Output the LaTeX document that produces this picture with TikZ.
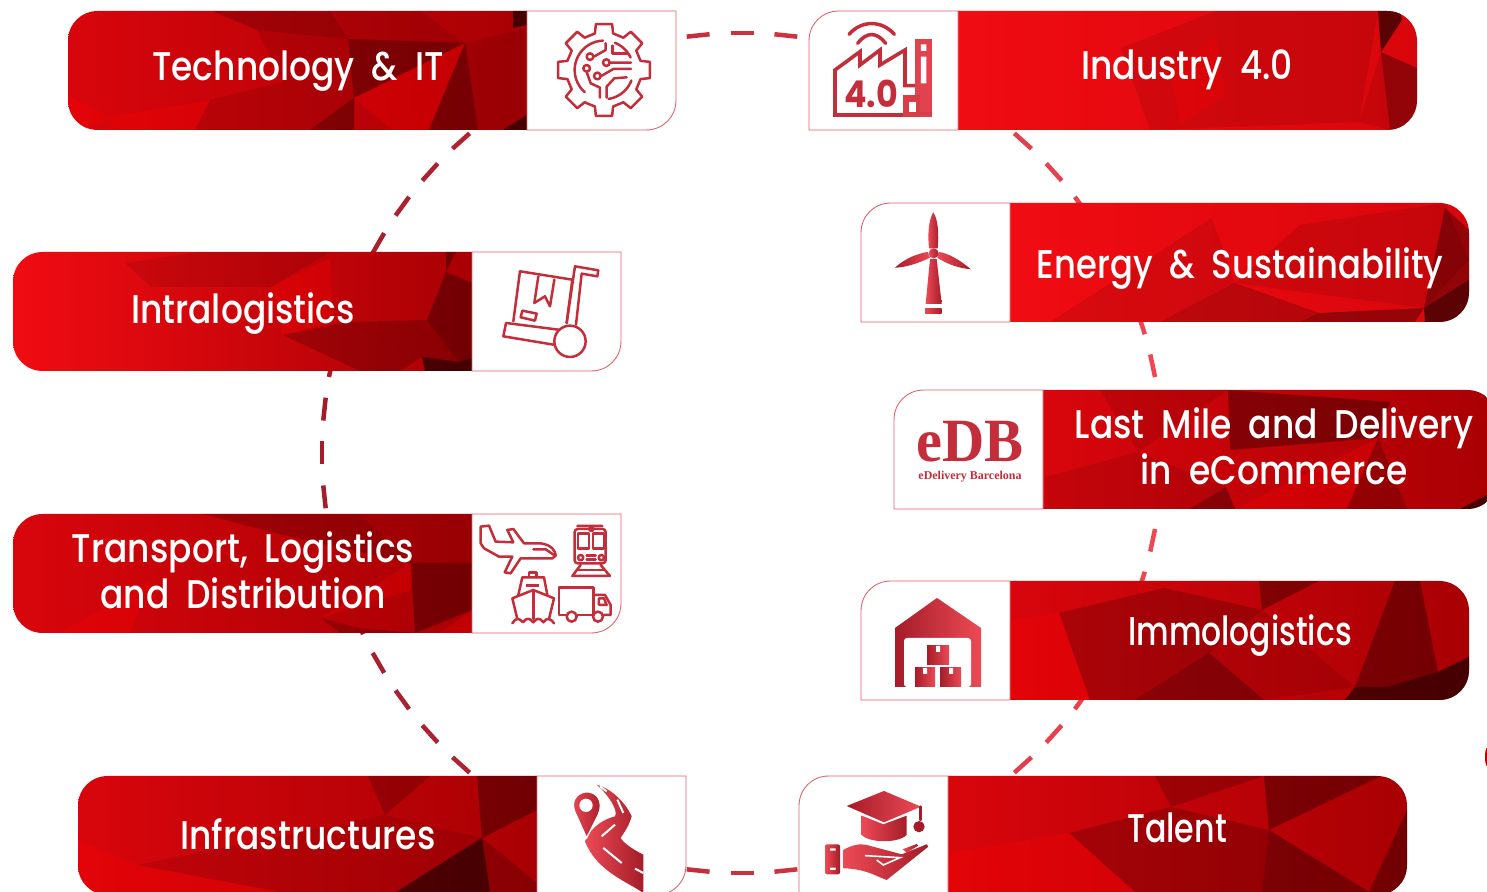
\documentclass[tikz,border=0pt]{standalone}
\usepackage{fontspec}
\usepackage{xcolor}
\setmainfont{Poppins}[UprightFont=* Medium,BoldFont=* Bold,FakeStretch=0.86,WordSpace=1.9]
\newfontfamily\logofont{Liberation Serif}
\usetikzlibrary{positioning}

\definecolor{ringdark}{HTML}{A31D2B}
\definecolor{ringlight}{HTML}{F04651}
\definecolor{icondk}{HTML}{A51C28}
\definecolor{iconlt}{HTML}{EC4A55}
\definecolor{iconmid}{HTML}{C42E3A}
\definecolor{panelline}{HTML}{E4616B}
\definecolor{cardbright}{HTML}{F00C12}
\definecolor{cardred}{HTML}{D8060C}
\definecolor{carddeep}{HTML}{A80004}

\tikzset{
  cardlabel/.style={text=white, align=center, font=\fontsize{11.4}{13.1}\selectfont},
  paneledge/.style={draw=panelline, fill=white, line width=0.25pt},
  ringdash/.style={line width=0.045cm},
  dka/.style={fill=black, fill opacity=0.09},
  dkb/.style={fill=black, fill opacity=0.19},
  dkc/.style={fill=black, fill opacity=0.32},
  dkd/.style={fill=black, fill opacity=0.58},
  lta/.style={fill=red, fill opacity=0.28},
  iconline/.style={draw=iconmid, line width=0.025cm, line join=round, line cap=round},
  iconthick/.style={draw=iconmid, line width=0.036cm, line join=miter},
  iconup/.style={left color=icondk, right color=iconlt},
  icondown/.style={left color=iconlt, right color=icondk}
}

% left, split, right, top, shade from, shade to, facets
\newcommand{\cardleft}[7]{%
  \begin{scope}
    \clip ({#1+30},#4) -- (#2,#4) -- (#2,{#4+119}) -- ({#1+30},{#4+119}) .. controls ({#1+13},{#4+119}) and (#1,{#4+106}) .. (#1,{#4+89}) -- (#1,{#4+30}) .. controls (#1,{#4+13}) and ({#1+13},#4) .. ({#1+30},#4) -- cycle;
    \shade[left color=#5, right color=#6] (#1,#4) rectangle (#2,{#4+119});
    #7
  \end{scope}
  \draw[paneledge] (#2,#4) -- (#3,#4) -- (#3,{#4+89}) .. controls (#3,{#4+106}) and ({#3-13},{#4+119}) .. ({#3-30},{#4+119}) -- (#2,{#4+119}) -- cycle;
}
\newcommand{\cardright}[7]{%
  \begin{scope}
    \clip (#2,#4) -- ({#3-30},#4) .. controls ({#3-13},#4) and (#3,{#4+13}) .. (#3,{#4+30}) -- (#3,{#4+89}) .. controls (#3,{#4+106}) and ({#3-13},{#4+119}) .. ({#3-30},{#4+119}) -- (#2,{#4+119}) -- cycle;
    \shade[left color=#5, right color=#6] (#2,#4) rectangle (#3,{#4+119});
    #7
  \end{scope}
  \draw[paneledge] ({#1+30},#4) -- (#2,#4) -- (#2,{#4+119}) -- (#1,{#4+119}) -- (#1,{#4+30}) .. controls (#1,{#4+13}) and ({#1+13},#4) .. ({#1+30},#4) -- cycle;
}

\begin{document}
\begin{tikzpicture}[x=0.01cm, y=-0.01cm]
  \useasboundingbox (0,0) rectangle (1487,892);
  \clip (0,0) rectangle (1487,892);

  % dashed ring behind the cards
  \coordinate (ringc) at (742,453);
  \foreach \a in {0,6,...,354} {
    \pgfmathsetmacro\ringmix{50+50*cos(\a)}
    \draw[ringdash, ringlight!\ringmix!ringdark] ([shift={(\a-1.57:420)}]ringc) -- ([shift={(\a+1.57:420)}]ringc);
  }
  \fill[red!75!black] (1487,757) ellipse (2 and 9);

  % left column
  \cardleft{68}{527}{676}{11}{cardred}{carddeep}{
    \fill[dkb] (212,11) -- (257,30) -- (348,39) -- (330,11) -- cycle;
    \fill[dka] (257,30) -- (283,82) -- (354,98) -- (348,39) -- cycle;
    \fill[dkc] (348,39) -- (465,43) -- (354,98) -- cycle;
    \fill[dka] (348,39) -- (465,43) -- (420,11) -- (330,11) -- cycle;
    \fill[lta] (354,98) -- (465,43) -- (429,130) -- (392,130) -- cycle;
    \fill[dkc] (465,43) -- (429,130) -- (478,130) -- cycle;
    \fill[dka] (465,43) -- (527,28) -- (527,115) -- (503,130) -- (478,130) -- cycle;
    \fill[dkd] (513,11) -- (527,11) -- (527,25) -- (513,28) -- cycle;
    \fill[dkd] (503,130) -- (527,115) -- (527,130) -- cycle;
    \fill[dkc] (354,98) -- (310,130) -- (354,130) -- cycle;
    \fill[lta] (108,117) -- (210,100) -- (195,130) -- (115,130) -- cycle;
    \fill[lta] (68,95) -- (108,117) -- (85,130) -- (68,130) -- cycle;
    \fill[dka] (210,100) -- (283,82) -- (354,98) -- (310,130) -- (195,130) -- cycle;
  }
  \cardleft{13}{472}{621}{252}{cardbright}{carddeep}{
    \fill[dkc] (446,272) -- (472,283) -- (472,358) -- (459,362) -- (427,320) -- cycle;
    \fill[dkc] (446,252) -- (456,252) -- (446,272) -- cycle;
    \fill[dkb] (349,322) -- (427,320) -- (459,362) -- (422,357) -- cycle;
    \fill[dkb] (283,335) -- (349,322) -- (422,357) -- (400,371) -- (360,371) -- cycle;
    \fill[dkd] (422,357) -- (459,362) -- (472,358) -- (472,371) -- (425,371) -- cycle;
    \fill[lta] (271,287) -- (330,258) -- (333,322) -- (283,335) -- cycle;
    \fill[dka] (125,263) -- (151,287) -- (271,287) -- (330,252) -- (200,252) -- cycle;
  }
  \cardleft{13}{472}{621}{514}{cardred}{carddeep}{
    \fill[dkb] (203,514) -- (283,535) -- (411,563) -- (359,514) -- cycle;
    \fill[dka] (359,514) -- (411,563) -- (472,563) -- (472,514) -- cycle;
    \fill[dkc] (411,563) -- (472,563) -- (472,610) -- (415,633) -- cycle;
    \fill[lta] (472,610) -- (440,633) -- (472,633) -- cycle;
    \fill[dkb] (321,618) -- (359,628) -- (415,633) -- (340,633) -- cycle;
    \fill[lta] (321,618) -- (411,590) -- (411,563) -- cycle;
    \fill[lta] (60,633) -- (150,580) -- (130,633) -- cycle;
  }
  \cardleft{78}{537}{686}{776}{cardred}{carddeep}{
    \fill[dkc] (477,776) -- (537,776) -- (537,810) -- (482,838) -- cycle;
    \fill[dkd] (482,838) -- (396,892) -- (490,892) -- cycle;
    \fill[dkb] (482,838) -- (537,883) -- (537,892) -- (490,892) -- cycle;
    \fill[dkb] (368,776) -- (385,815) -- (430,776) -- cycle;
    \fill[dka] (137,865) -- (385,815) -- (482,838) -- (396,892) -- (280,892) -- cycle;
    \fill[lta] (78,840) -- (137,865) -- (160,892) -- (78,892) -- cycle;
    \fill[lta] (137,865) -- (280,892) -- (160,892) -- cycle;
  }

  % right column
  \cardright{809}{958}{1417}{11}{cardbright}{cardred}{
    \fill[dkd] (1378,11) -- (1381,52) -- (1402,20) -- (1400,11) -- cycle;
    \fill[dkc] (1381,52) -- (1417,68) -- (1417,130) -- (1390,130) -- cycle;
    \fill[dka] (1381,52) -- (1359,122) -- (1390,130) -- cycle;
    \fill[dka] (1121,48) -- (1150,130) -- (1359,122) -- (1378,11) -- (1216,11) -- cycle;
    \fill[lta] (1170,70) -- (1216,37) -- (1225,95) -- (1180,125) -- cycle;
  }
  \cardright{861}{1010}{1469}{203}{cardbright}{cardred}{
    \fill[dka] (1235,283) -- (1424,308) -- (1469,260) -- (1445,203) -- (1300,225) -- cycle;
    \fill[dkc] (1445,208) -- (1469,230) -- (1469,280) -- (1424,308) -- cycle;
    \fill[dkb] (1235,283) -- (1319,313) -- (1300,322) -- (1160,322) -- cycle;
    \fill[dkc] (1319,313) -- (1424,308) -- (1415,322) -- (1300,322) -- cycle;
    \fill[dkd] (1424,308) -- (1469,280) -- (1469,322) -- (1425,322) -- cycle;
    \fill[dka] (1212,218) -- (1235,283) -- (1160,322) -- (1050,322) -- cycle;
  }
  \cardright{894}{1043}{1497}{390}{cardred}{carddeep}{
    \fill[dkc] (1228,390) -- (1390,402) -- (1378,438) -- (1230,450) -- cycle;
    \fill[dka] (1138,452) -- (1228,390) -- (1100,390) -- cycle;
    \fill[dkb] (1347,509) -- (1378,438) -- (1407,509) -- cycle;
    \fill[dkc] (1226,487) -- (1190,509) -- (1235,509) -- cycle;
    \fill[dka] (1045,477) -- (1138,452) -- (1226,487) -- (1190,509) -- (1045,509) -- cycle;
    \fill[lta] (1235,509) -- (1378,438) -- (1347,509) -- cycle;
    \fill[dkd] (1460,509) -- (1487,495) -- (1497,509) -- cycle;
  }
  \cardright{861}{1010}{1469}{581}{cardred}{carddeep}{
    \fill[dkb] (1059,613) -- (1164,588) -- (1262,610) -- (1209,653) -- (1135,700) -- (1090,700) -- cycle;
    \fill[dkc] (1259,581) -- (1319,581) -- (1262,610) -- cycle;
    \fill[dkc] (1209,653) -- (1264,700) -- (1135,700) -- cycle;
    \fill[dka] (1262,610) -- (1355,687) -- (1264,700) -- (1209,653) -- cycle;
    \fill[dkc] (1395,581) -- (1355,687) -- (1388,687) -- (1438,672) -- (1420,581) -- cycle;
    \fill[dkd] (1438,672) -- (1469,657) -- (1469,700) -- (1345,700) -- (1355,687) -- (1388,687) -- cycle;
    \fill[lta] (1011,620) -- (1059,613) -- (1090,700) -- (1011,700) -- cycle;
  }
  \cardright{799}{948}{1407}{776}{cardred}{carddeep}{
    \fill[dkb] (1155,776) -- (1171,807) -- (1264,776) -- cycle;
    \fill[dkc] (1264,776) -- (1381,776) -- (1269,830) -- cycle;
    \fill[dkc] (1269,830) -- (1369,892) -- (1262,892) -- cycle;
    \fill[dkb] (1171,807) -- (1269,830) -- (1262,892) -- (1135,892) -- (1069,833) -- cycle;
    \fill[dkc] (1407,810) -- (1369,892) -- (1407,892) -- cycle;
    \fill[lta] (1069,833) -- (950,853) -- (948,892) -- (1135,892) -- cycle;
  }

  % labels
  \node[cardlabel] (techlabel) at (298,71) {Technology \& IT};
  \node[cardlabel] (intralabel) at (243,314) {Intralogistics};
  \node[cardlabel] (translabel) at (243,570) {Transport, Logistics\\and Distribution};
  \node[cardlabel] (infralabel) at (308,834) {Infrastructures};
  \node[cardlabel] (indlabel) at (1187,70) {Industry 4.0};
  \node[cardlabel, xscale=0.98] (energylabel) at (1240,269) {Energy \& Sustainability};
  \node[cardlabel] (lastlabel) at (1274,446) {Last Mile and Delivery\\in eCommerce};
  \node[cardlabel, xscale=0.91] (immolabel) at (1240,636) {Immologistics};
  \node[cardlabel, xscale=0.92] (talentlabel) at (1177,828) {Talent};

  % gear icon
  \begin{scope}[shift={(545,15)}, scale=0.3333]
    \foreach \a in {0,45,...,315} {
      \draw[iconline, shift={(177,165)}] (\a-14:113) -- (\a-10:140) -- (\a+10:140) -- (\a+14:113) -- (\a+31:113);
    }
    \draw[iconline] plot[domain=131:268, samples=24] ({177+88*cos(\x)},{165+88*sin(\x)});
    \draw[iconline] plot[domain=-68:-25, samples=10] ({177+88*cos(\x)},{165+88*sin(\x)});
    \draw[iconline] plot[domain=21:81, samples=12] ({177+88*cos(\x)},{165+88*sin(\x)});
    \draw[iconline] (182,85) -- (182,105) -- (147,125) (135,125) circle (10);
    \draw[iconline] (202,92) -- (202,115) -- (248,115);
    \draw[iconline] (195,143) -- (258,143) (184,143) circle (10);
    \draw[iconline] (258,162) -- (205,162) -- (169,183) (157,183) circle (10);
    \draw[iconline] (125,160) circle (10) (125,171) -- (137,205) -- (165,218) -- (165,248);
    \draw[iconline] (245,187) -- (208,190) -- (185,215) -- (185,248);
  \end{scope}

  % trolley icon
  \begin{scope}[shift={(495,258)}, scale=0.3333]
    \draw[iconline] (55,190) -- (75,40) -- (232,65) -- (215,195);
    \draw[iconline] (130,55) -- (118,135) -- (150,115) -- (165,145) -- (178,65);
    \draw[iconline] (82,158) -- (125,167) -- (120,188) -- (77,178) -- cycle;
    \draw[iconline] (190,215) -- (33,195) -- (25,235) -- (175,260);
    \draw[iconline] (215,195) -- (240,25) -- (310,37) -- (307,55) -- (260,47) -- (243,200);
    \draw[iconline] (225,250) circle (47);
  \end{scope}

  % transport icons
  \begin{scope}[shift={(474,515)}, scale=0.3333]
    \draw[iconline] (20,35) -- (45,32) -- (65,80) -- (118,82) -- (100,45) -- (118,42) -- (150,85) -- (200,85) .. controls (235,90) and (245,110) .. (245,122) -- (235,130) -- (140,130) -- (110,175) -- (92,172) -- (115,125) -- (75,125) -- (30,100) -- (20,85) -- cycle;
    \draw[iconline] (178,103) -- (215,103) -- (240,120);
    % train
    \draw[iconline, rounded corners=0.03cm] (302,42) rectangle (395,145);
    \draw[iconline] (310,33) -- (385,33) (352,42) circle (6);
    \draw[iconline] (312,55) rectangle (345,100) (357,55) rectangle (390,100);
    \draw[iconline] (320,128) circle (8) (382,128) circle (8);
    \draw[iconline] (338,122) -- (365,122) (338,134) -- (365,134);
    \draw[iconline] (320,150) -- (295,183) -- (408,183) -- (380,150);
    \draw[iconline] (310,165) -- (392,165);
    % ship
    \draw[iconline] (165,187) -- (165,172) -- (188,172) -- (188,187);
    \draw[iconline] (133,240) -- (145,187) -- (210,187) -- (220,240);
    \fill[iconmid] (155,208) rectangle (195,216);
    \draw[iconline] (130,312) -- (115,250) -- (178,225) -- (240,250) -- (225,312);
    \draw[iconline] (178,225) -- (178,312);
    \draw[iconline] (115,325) .. controls (125,308) and (135,308) .. (147,322) .. controls (157,308) and (167,308) .. (178,322) .. controls (188,308) and (198,308) .. (208,322) .. controls (218,308) and (228,308) .. (240,325);
    % truck
    \draw[iconline] (275,300) -- (255,300) -- (255,217) -- (358,217) -- (358,300) -- (310,300);
    \draw[iconline] (358,240) -- (393,240) -- (410,270) -- (410,300) -- (390,300);
    \draw[iconline] (375,250) -- (390,250) -- (398,270) -- (375,270) -- cycle;
    \draw[iconline] (293,305) circle (15) (372,305) circle (15);
  \end{scope}

  % road icon
  \begin{scope}[shift={(560,778)}, scale=0.3333]
    \shade[icondown] (110,20) .. controls (150,30) and (195,70) .. (215,115) .. controls (205,150) and (190,165) .. (182,180) .. controls (190,195) and (220,215) .. (250,230) -- (250,345) .. controls (200,310) and (110,280) .. (75,190) .. controls (85,165) and (110,130) .. (165,115) .. controls (175,100) and (150,55) .. (110,20) -- cycle;
    \draw[white, line width=0.02cm] (172,65) -- (190,105) (125,175) -- (165,140);
    \draw[white, line width=0.02cm] (130,210) -- (185,255) (225,272) -- (250,285) (120,25) -- (140,40);
    \shade[icondown, draw=white, line width=0.012cm] (80,180) -- (44,100) .. controls (30,60) and (60,40) .. (85,42) .. controls (115,45) and (130,75) .. (115,110) -- cycle;
    \fill[white] (78,82) circle (20);
  \end{scope}

  % factory icon
  \begin{scope}[shift={(825,15)}, scale=0.3333]
    \draw[iconthick] (240,300) -- (30,300) -- (30,165) -- (105,110) -- (105,150) -- (165,105) -- (165,150) -- (240,105) -- (240,212) -- (270,212);
    \fill[iconlt!85!icondk] (270,72) rectangle (320,305);
    \fill[white] (288,88) rectangle (304,108) (288,125) rectangle (304,205);
    \fill[iconlt!70!icondk] (235,240) rectangle (285,305);
    \fill[white] (252,262) rectangle (272,298);
    \draw[iconthick, iconlt!70!icondk] (240,296) -- (320,296);
    \draw[iconline, line width=0.035cm, line cap=round] (72,58) .. controls (110,15) and (170,15) .. (208,58);
    \draw[iconline, line width=0.035cm, line cap=round] (98,85) .. controls (125,50) and (155,50) .. (182,85);
    \node[text=iconmid, font=\fontsize{10.5}{12}\bfseries\selectfont, inner sep=0pt, xscale=1.05] (fourzero) at (138,236) {4.0};
  \end{scope}

  % turbine icon
  \begin{scope}[shift={(885,205)}, scale=0.3333]
    \shade[left color=iconlt, right color=icondk] (145,22) .. controls (160,45) and (162,90) .. (158,130) -- (132,130) .. controls (128,90) and (130,45) .. (145,22) -- cycle;
    \shade[iconup] (30,188) .. controls (60,160) and (100,145) .. (128,141) -- (135,158) .. controls (100,175) and (60,188) .. (30,188) -- cycle;
    \shade[icondown] (258,193) .. controls (225,165) and (190,145) .. (162,141) -- (157,158) .. controls (190,180) and (225,190) .. (258,193) -- cycle;
    \shade[icondown] (146,145) circle (15);
    \shade[icondown] (135,162) -- (122,297) -- (170,297) -- (155,162) -- cycle;
    \shade[icondown] (120,310) rectangle (170,325);
  \end{scope}

  % eDB logo
  \node[text=iconmid, font=\logofont\fontsize{17.5}{19}\bfseries\selectfont, inner sep=0pt, xscale=0.95] (edblogo) at (970,442) {eDB};
  \node[text=iconmid, font=\logofont\fontsize{3.4}{4}\bfseries\selectfont, inner sep=0pt] (edbsub) at (970,477) {eDelivery Barcelona};

  % warehouse icon
  \shade[iconup] (937,598) -- (981,628) -- (981,687) -- (895,687) -- (895,628) -- cycle;
  \fill[white, rounded corners=0.03cm] (904,687) -- (904,638) -- (971,638) -- (971,687) -- cycle;
  \shade[iconup] (927,646) rectangle (949,665);
  \shade[iconup] (915,668) rectangle (935,687);
  \shade[iconup] (940,668) rectangle (961,687);
  \fill[white] (936,646) rectangle (940,652) (923,668) rectangle (927,674) (949,668) rectangle (953,674);

  % graduate icon
  \begin{scope}[shift={(815,785)}, scale=0.3333]
    \shade[icondown] (140,92) -- (205,118) -- (275,92) -- (275,150) .. controls (250,175) and (165,175) .. (140,150) -- cycle;
    \shade[iconup] (95,63) -- (207,18) -- (318,65) -- (207,112) -- cycle;
    \draw[iconline, icondk] (316,65) -- (316,105);
    \fill[icondk] (312,125) circle (17);
    \shade[icondown, rounded corners=0.02cm] (30,178) rectangle (75,268);
    \fill[white] (45,190) rectangle (62,197) (45,248) rectangle (62,255);
    \shade[icondown] (85,195) .. controls (110,180) and (135,175) .. (155,180) -- (260,208) -- (335,178) -- (340,185) -- (215,285) -- (190,275) .. controls (150,255) and (110,250) .. (85,250) -- cycle;
    \draw[white, line width=0.016cm] (150,212) -- (255,218) -- (205,240) -- (185,225);
    \shade[icondown] (263,193) -- (305,177) -- (310,182) -- (275,203) -- cycle;
  \end{scope}
\end{tikzpicture}
\end{document}
